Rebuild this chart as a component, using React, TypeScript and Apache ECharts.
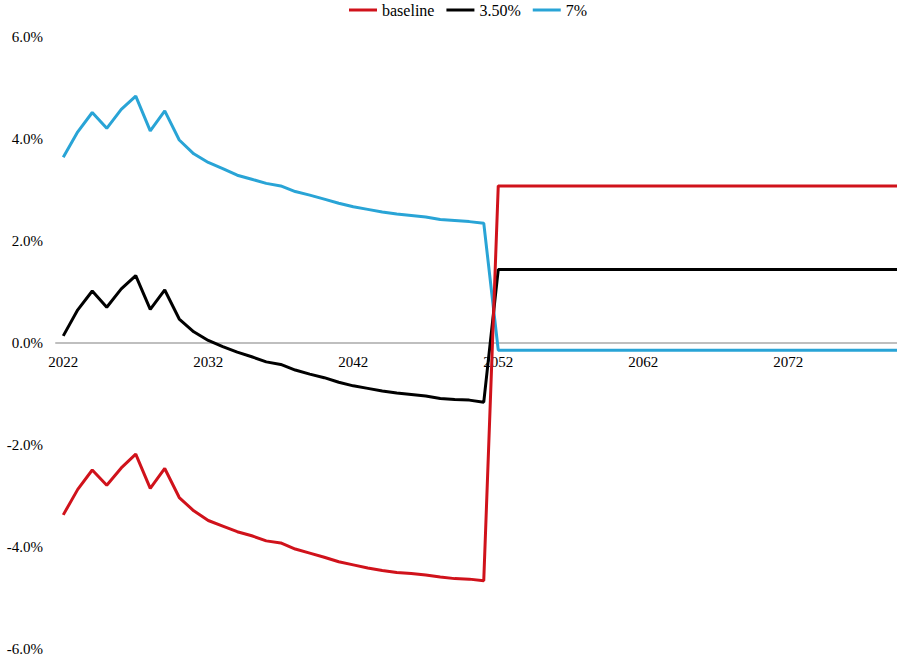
import React, { useEffect, useRef } from "react";
import * as echarts from "echarts";

const years: string[] = [];
for (let y = 2022; y <= 2080; y++) years.push(String(y));

const baseline = [
  -3.37, -2.87, -2.49, -2.79, -2.45, -2.18, -2.85, -2.46, -3.03, -3.29,
  -3.48, -3.59, -3.70, -3.78, -3.88, -3.92, -4.04, -4.12, -4.20, -4.29,
  -4.35, -4.41, -4.46, -4.50, -4.52, -4.55, -4.59, -4.62, -4.63, -4.66,
  3.08, 3.08, 3.08, 3.08, 3.08, 3.08, 3.08, 3.08, 3.08, 3.08,
  3.08, 3.08, 3.08, 3.08, 3.08, 3.08, 3.08, 3.08, 3.08, 3.08,
  3.08, 3.08, 3.08, 3.08, 3.08, 3.08, 3.08, 3.08, 3.08,
];

const rate350 = [
  0.14, 0.65, 1.02, 0.70, 1.06, 1.32, 0.66, 1.04, 0.47, 0.22,
  0.05, -0.07, -0.18, -0.27, -0.37, -0.42, -0.53, -0.61, -0.68, -0.77,
  -0.84, -0.89, -0.94, -0.98, -1.01, -1.04, -1.09, -1.11, -1.12, -1.16,
  1.44, 1.44, 1.44, 1.44, 1.44, 1.44, 1.44, 1.44, 1.44, 1.44,
  1.44, 1.44, 1.44, 1.44, 1.44, 1.44, 1.44, 1.44, 1.44, 1.44,
  1.44, 1.44, 1.44, 1.44, 1.44, 1.44, 1.44, 1.44, 1.44,
];

const rate7 = [
  3.64, 4.14, 4.52, 4.21, 4.58, 4.84, 4.16, 4.55, 3.98, 3.71,
  3.54, 3.42, 3.29, 3.21, 3.13, 3.08, 2.97, 2.90, 2.82, 2.74,
  2.67, 2.62, 2.57, 2.53, 2.50, 2.47, 2.42, 2.40, 2.38, 2.35,
  -0.14, -0.14, -0.14, -0.14, -0.14, -0.14, -0.14, -0.14, -0.14, -0.14,
  -0.14, -0.14, -0.14, -0.14, -0.14, -0.14, -0.14, -0.14, -0.14, -0.14,
  -0.14, -0.14, -0.14, -0.14, -0.14, -0.14, -0.14, -0.14, -0.14,
];

const seriesNames = ["baseline", "3.50%", "7%"];
const seriesColors = ["#d0121b", "#000000", "#29a4d6"];

const FONT = "Liberation Serif";

export default function App() {
  const ref = useRef<HTMLDivElement>(null);
  useEffect(() => {
    if (!ref.current) return;
    const chart = echarts.init(ref.current, undefined, { renderer: "svg" });
    const datasets = [baseline, rate350, rate7];
    chart.setOption({
      animation: false,
      backgroundColor: "#ffffff",
      textStyle: { fontFamily: FONT, color: "#000" },
      legend: {
        top: 0,
        left: 344,
        padding: [2, 5],
        icon: "rect",
        itemWidth: 28,
        itemHeight: 3,
        itemGap: 12,
        textStyle: { fontFamily: FONT, fontSize: 16, color: "#000" },
        data: seriesNames,
      },
      grid: {
        left: 56,
        right: -14.5,
        top: 37,
        bottom: 13,
        containLabel: false,
        outerBoundsMode: "none",
      },
      xAxis: {
        type: "category",
        data: years,
        boundaryGap: true,
        offset: -306,
        axisLine: { onZero: false, lineStyle: { color: "#bfbfbf", width: 2 } },
        axisTick: { show: false },
        axisLabel: {
          interval: 9,
          margin: 11,
          fontFamily: FONT,
          fontSize: 15,
          color: "#000",
        },
        splitLine: { show: false },
      },
      yAxis: {
        type: "value",
        min: -6,
        max: 6,
        interval: 2,
        axisLine: { show: false },
        axisTick: { show: false },
        splitLine: { show: false },
        axisLabel: {
          margin: 13,
          fontFamily: FONT,
          fontSize: 15,
          color: "#000",
          formatter: (v: number) => v.toFixed(1) + "%",
        },
      },
      series: datasets.map((d, i) => ({
        name: seriesNames[i],
        type: "line",
        data: d,
        symbol: "none",
        showSymbol: false,
        color: seriesColors[i],
        lineStyle: { color: seriesColors[i], width: 3 },
        z: 3 - i,
      })),
    });
    return () => chart.dispose();
  }, []);
  return (
    <div
      ref={ref}
      style={{ position: "absolute", left: 0, top: 0, width: 897, height: 662 }}
    />
  );
}
